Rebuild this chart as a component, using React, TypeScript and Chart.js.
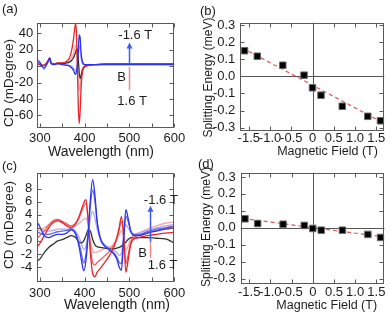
import React, { useEffect, useRef } from 'react';
import { Chart, registerables } from 'chart.js';

Chart.register(...registerables);

const FONT_FAMILY = "'Liberation Sans', Arial, Helvetica, sans-serif";
const TEXT = '#1c1c1c';
const FRAME = '#5a5a5a';
const ZERO = '#555555';
const TICK = 4;

// ---------------- (a) CD spectra ----------------
const aWavelength = [296, 300, 305, 310, 314, 318, 322, 326, 332, 340, 350, 360, 366, 371, 375, 378, 380, 382, 384, 386, 388, 390, 392, 395, 400, 410, 425, 450, 500, 550, 600];
const aCDPos16 = [3, 2, 1, 1, 3, 6, 10, 3, 3, 4, 4, 6, 10, 19, 32, 46, 52, 38, -5, -50, -70, -55, -28, -8, -1, 1, 2, 3, 3, 3, 3];
const aCDPos07 = [4, 3, 2, 1, 3, 5, 8, 3, 3, 4, 4, 5, 7, 10, 15, 21, 26, 22, 5, -15, -30, -26, -12, -3, 0, 2, 2, 3, 3, 3, 3];
const aCDZero = [3, 2, 1, 1, 3, 6, 9, 3, 3, 3, 3, 4, 5, 7, 10, 14, 17, 21, 20, 8, -8, -15, -12, -5, 0, 2, 2, 2.5, 2.5, 2.5, 2.5];
const aCDNeg07 = [5, 4, -1, -4, 0, 4, 8, 3, 2, 3, 2, 2, 1, 0, -2, -5, -6, -3, 4, 14, 25, 22, 10, 3, 2, 2, 2, 2, 2, 2, 2];
const aCDNeg16 = [7, 5, 0, -2, 1, 5, 10, 3, 2, 3, 2, 1, 0, -2, -5, -9, -10, -6, 2, 20, 38, 35, 17, 6, 2, 2, 2, 2, 2, 2, 2];
const aXTicks = [300, 350, 400, 450, 500, 550, 600];
const aXTickLabels = ['300', '', '400', '', '500', '', '600'];
const aYTicks = [-60, -40, -20, 0, 20, 40];
const aYTickLabels = ['-60', '-40', '-20', '0', '20', '40'];

// ---------------- (b) splitting energy ----------------
const bField = [-1.6, -1.3, -0.7, -0.2, 0, 0.2, 0.7, 1.3, 1.6];
const bSplitting = [0.15, 0.118, 0.065, 0.007, -0.067, -0.11, -0.175, -0.234, -0.26];
const bFitField = [-1.65, 1.65];
const bFitSplitting = [0.166, -0.27];

// ---------------- (c) CD spectra ----------------
const cWavelength = [296, 300, 310, 320, 330, 340, 350, 360, 370, 380, 388, 393, 398, 403, 408, 413, 418, 423, 428, 435, 445, 455, 465, 472, 477, 482, 487, 492, 497, 503, 510, 520, 540, 560, 580, 600];
const cCDPos16 = [-0.8, -0.4, 0.8, 2.0, 2.8, 3.1, 2.8, 2.3, 2.0, 2.6, 3.8, 4.8, 5.8, 6.3, 3.0, -2.0, -5.0, -5.5, -4.8, -4.2, -3.3, -2.3, -1.0, 0.5, 2.0, 3.7, 1.0, -4.8, -3.0, -0.5, 0.3, 0.5, 0.8, 1.0, 1.2, 1.3];
const cCDPos10 = [0.5, 0.8, 1.5, 2.4, 3.1, 3.3, 3.0, 2.6, 2.3, 2.7, 3.6, 4.5, 5.3, 5.7, 3.2, -1.0, -3.4, -3.7, -3.3, -2.9, -2.3, -1.6, -0.6, 0.5, 1.7, 3.0, 1.0, -3.5, -2.2, -0.2, 0.6, 0.8, 1.2, 1.6, 2.0, 2.3];
const cCDPos05 = [1.5, 1.6, 2.0, 2.5, 2.9, 3.0, 2.8, 2.5, 2.2, 2.3, 2.7, 3.0, 3.3, 3.5, 2.2, 0.0, -1.5, -1.8, -1.7, -1.5, -1.2, -1.0, -0.5, 0.2, 0.9, 1.6, 0.5, -1.5, -0.8, 0.4, 0.9, 1.2, 1.8, 2.3, 2.7, 2.9];
const cCDZero = [-3.0, -2.8, -1.8, -1.0, -0.5, 0.0, 0.2, 0.5, 0.8, 0.5, -0.2, -0.3, 0.0, 0.8, 1.7, 1.5, 0.2, -0.6, -0.9, -1.0, -1.1, -1.2, -1.2, -1.1, -1.0, -0.8, -0.5, -0.2, 0.2, 0.5, 0.4, 0.5, 0.5, 0.4, 0.3, -0.3];
const cCDNeg05 = [2.0, 1.9, 1.6, 1.5, 1.6, 1.8, 1.8, 1.8, 1.9, 1.5, 0.5, -0.5, -1.3, -0.8, 1.0, 3.5, 4.5, 3.5, 1.8, 0.3, -0.6, -1.0, -1.4, -1.8, -2.2, -2.0, 1.0, 2.5, 2.0, 1.3, 1.0, 1.2, 1.6, 2.0, 2.3, 2.5];
const cCDNeg10 = [1.3, 1.2, 1.0, 1.0, 1.2, 1.4, 1.5, 1.6, 1.8, 1.2, -0.5, -2.0, -3.4, -2.0, 1.5, 5.5, 7.8, 6.0, 2.8, 0.5, -0.8, -1.2, -1.8, -2.5, -3.3, -3.5, 0.5, 3.8, 3.0, 1.5, 1.0, 1.0, 1.4, 1.8, 2.0, 2.2];
const cCDNeg16 = [2.7, 2.2, 0.8, 0.5, 0.8, 1.0, 1.0, 1.2, 1.7, 1.0, -1.0, -3.0, -4.6, -3.0, 1.0, 6.5, 9.4, 7.0, 3.0, 0.3, -0.8, -1.4, -2.0, -2.8, -4.0, -4.5, 0.0, 4.8, 3.5, 1.5, 0.8, 0.8, 1.2, 1.5, 1.8, 2.0];
const cYTicks = [-4, -2, 0, 2, 4, 6, 8];
const cYTickLabels = ['-4', '-2', '0', '2', '4', '6', '8'];

// ---------------- (d) splitting energy ----------------
const dField = [-1.6, -1.3, -0.7, -0.2, 0, 0.2, 0.7, 1.3, 1.6];
const dSplitting = [0.053, 0.025, 0.021, 0.014, -0.004, -0.014, -0.014, -0.039, -0.057];
const dFitField = [-1.65, 1.65];
const dFitSplitting = [0.055, -0.053];

const fieldTicks = [-1.5, -1, -0.5, 0, 0.5, 1, 1.5];
const fieldTickLabels = ['-1.5', '-1.0', '-0.5', '0', '0.5', '1.0', '1.5'];
const splitTicks = [-0.3, -0.2, -0.1, 0, 0.1, 0.2, 0.3];
const splitTickLabels = ['-0.3', '-0.2', '-0.1', '0.0', '0.1', '0.2', '0.3'];

const RED = '#e8262a';
const RED2 = '#ee5c5c';
const PINK = '#f4a8a8';
const BLACK = '#333333';
const LBLUE = '#a8aaf2';
const BLUE2 = '#6466ee';
const BLUE = '#2b33ec';
const ARROW_BLUE = '#3c5cf2';
const ARROW_RED = '#f28888';

type Note = { text: string; x: number; y: number };
type Title = { text: string; cx: number; cy: number; size: number; vertical?: boolean };
type Decor = {
  letter: string;
  letterX: number;
  letterY: number;
  titles: Title[];
  zeroLines?: boolean;
  arrow?: { x: number; blue: number[]; red: number[] };
  notes?: Note[];
};

const aArrow = { x: 500, blue: [2.5, 29], red: [-1, -29] };
const aNotes: Note[] = [
  { text: '-1.6 T', x: 513, y: 38 },
  { text: 'B', x: 482.6, y: -14 },
  { text: '1.6 T', x: 506, y: -43 },
];
const cArrow = { x: 546, blue: [-0.2, 5.4], red: [-2.6, -0.2] };
const cNotes: Note[] = [
  { text: '-1.6 T', x: 570, y: 6.2 },
  { text: 'B', x: 529.5, y: -1.9 },
  { text: '1.6 T', x: 574, y: -3.7 },
];

function decorPlugin(cfg: Decor) {
  return {
    id: 'decor',
    beforeDatasetsDraw(chart: any) {
      if (!cfg.zeroLines) return;
      const { ctx, chartArea: ca, scales } = chart;
      const x0 = Math.round(scales.x.getPixelForValue(0)) + 0.5;
      const y0 = Math.round(scales.y.getPixelForValue(0)) + 0.5;
      ctx.save();
      ctx.strokeStyle = ZERO;
      ctx.lineWidth = 1;
      ctx.beginPath();
      ctx.moveTo(ca.left, y0);
      ctx.lineTo(ca.right, y0);
      ctx.moveTo(x0, ca.top);
      ctx.lineTo(x0, ca.bottom);
      ctx.stroke();
      ctx.restore();
    },
    afterDatasetsDraw(chart: any) {
      const { ctx, chartArea: ca, scales } = chart;
      const xs = scales.x;
      const ys = scales.y;
      const L = Math.round(ca.left) + 0.5;
      const R = Math.round(ca.right) - 0.5;
      const T = Math.round(ca.top) + 0.5;
      const B = Math.round(ca.bottom) - 0.5;
      ctx.save();
      ctx.strokeStyle = FRAME;
      ctx.lineWidth = 1;
      ctx.strokeRect(L, T, R - L, B - T);
      ctx.beginPath();
      for (const t of xs.ticks) {
        const p = Math.round(xs.getPixelForValue(t.value)) + 0.5;
        ctx.moveTo(p, B);
        ctx.lineTo(p, B - TICK);
        ctx.moveTo(p, T);
        ctx.lineTo(p, T + TICK);
      }
      for (const t of ys.ticks) {
        const p = Math.round(ys.getPixelForValue(t.value)) + 0.5;
        ctx.moveTo(L, p);
        ctx.lineTo(L + TICK, p);
        ctx.moveTo(R, p);
        ctx.lineTo(R - TICK, p);
      }
      ctx.stroke();

      if (cfg.arrow) {
        const a = cfg.arrow;
        const px = Math.round(xs.getPixelForValue(a.x)) + 0.5;
        ctx.lineWidth = 1.5;
        ctx.strokeStyle = ARROW_RED;
        ctx.beginPath();
        ctx.moveTo(px, ys.getPixelForValue(a.red[0]));
        ctx.lineTo(px, ys.getPixelForValue(a.red[1]));
        ctx.stroke();
        const tip = ys.getPixelForValue(a.blue[1]);
        ctx.strokeStyle = ARROW_BLUE;
        ctx.beginPath();
        ctx.moveTo(px, ys.getPixelForValue(a.blue[0]));
        ctx.lineTo(px, tip + 4);
        ctx.stroke();
        ctx.fillStyle = ARROW_BLUE;
        ctx.beginPath();
        ctx.moveTo(px, tip);
        ctx.lineTo(px - 3, tip + 6);
        ctx.lineTo(px + 3, tip + 6);
        ctx.closePath();
        ctx.fill();
      }

      ctx.fillStyle = TEXT;
      ctx.font = `13px ${FONT_FAMILY}`;
      ctx.textAlign = 'center';
      ctx.textBaseline = 'middle';
      for (const n of cfg.notes ?? []) {
        ctx.fillText(n.text, xs.getPixelForValue(n.x), ys.getPixelForValue(n.y));
      }
      for (const t of cfg.titles) {
        ctx.save();
        ctx.font = `${t.size}px ${FONT_FAMILY}`;
        ctx.translate(t.cx, t.cy);
        if (t.vertical) ctx.rotate(-Math.PI / 2);
        ctx.fillText(t.text, 0, 0);
        ctx.restore();
      }
      ctx.textAlign = 'left';
      ctx.font = `13px ${FONT_FAMILY}`;
      ctx.fillText(cfg.letter, cfg.letterX, cfg.letterY);
      ctx.restore();
    },
  };
}

type Panel = {
  datasets: any[];
  xMin: number; xMax: number; yMin: number; yMax: number;
  xTicks: number[]; xLabels: string[]; yTicks: number[]; yLabels: string[];
  pad: { left: number; right: number; top: number; bottom: number };
  yWidth: number; xHeight: number; xLabelPad: number; yLabelPad: number;
  decor: Decor;
};

function fixTicks(values: number[]) {
  return (scale: any) => {
    scale.ticks = values.map((v) => ({ value: v }));
  };
}

function fixSize(size: number, horizontal: boolean) {
  return (scale: any) => {
    if (horizontal) scale.height = size;
    else scale.width = size;
    scale.paddingLeft = 0;
    scale.paddingRight = 0;
    scale.paddingTop = 0;
    scale.paddingBottom = 0;
  };
}

function buildConfig(p: Panel): any {
  const font = { family: FONT_FAMILY, size: 13 };
  return {
    type: 'scatter',
    data: { datasets: p.datasets },
    options: {
      responsive: false,
      animation: false,
      events: [],
      devicePixelRatio: 1,
      layout: { padding: p.pad },
      plugins: { legend: { display: false }, tooltip: { enabled: false } },
      scales: {
        x: {
          type: 'linear',
          min: p.xMin,
          max: p.xMax,
          afterBuildTicks: fixTicks(p.xTicks),
          afterFit: fixSize(p.xHeight, true),
          grid: { display: false, drawTicks: false },
          border: { display: false },
          ticks: {
            autoSkip: false,
            maxRotation: 0,
            minRotation: 0,
            padding: p.xLabelPad,
            color: TEXT,
            font,
            callback: (_v: any, i: number) => p.xLabels[i],
          },
          title: { display: false },
        },
        y: {
          type: 'linear',
          min: p.yMin,
          max: p.yMax,
          afterBuildTicks: fixTicks(p.yTicks),
          afterFit: fixSize(p.yWidth, false),
          grid: { display: false, drawTicks: false },
          border: { display: false },
          ticks: {
            autoSkip: false,
            padding: p.yLabelPad,
            color: TEXT,
            font,
            callback: (_v: any, i: number) => p.yLabels[i],
          },
          title: { display: false },
        },
      },
    },
    plugins: [decorPlugin(p.decor)],
  };
}

function curve(xs: number[], ys: number[], color: string) {
  return {
    data: xs.map((x, i) => ({ x, y: ys[i] })),
    showLine: true,
    borderColor: color,
    backgroundColor: color,
    borderWidth: 1.3,
    pointRadius: 0,
    cubicInterpolationMode: 'monotone',
    fill: false,
  };
}

function markers(xs: number[], ys: number[]) {
  return {
    data: xs.map((x, i) => ({ x, y: ys[i] })),
    showLine: false,
    pointStyle: 'rect',
    pointRadius: 4.6,
    backgroundColor: '#000000',
    borderColor: '#6a6a6a',
    borderWidth: 1,
  };
}

function fitLine(xs: number[], ys: number[]) {
  return {
    data: xs.map((x, i) => ({ x, y: ys[i] })),
    showLine: true,
    borderColor: '#e05555',
    borderWidth: 1.2,
    borderDash: [4, 3],
    pointRadius: 0,
    fill: false,
  };
}

const panels: Panel[] = [
  {
    datasets: [
      curve(aWavelength, aCDNeg16, BLUE),
      curve(aWavelength, aCDPos16, RED),
      curve(aWavelength, aCDZero, BLACK),
      curve(aWavelength, aCDNeg07, LBLUE),
      curve(aWavelength, aCDPos07, PINK),
    ],
    xMin: 294.5, xMax: 600, yMin: -75, yMax: 53,
    xTicks: aXTicks, xLabels: aXTickLabels, yTicks: aYTicks, yLabels: aYTickLabels,
    pad: { left: 1.2, right: 215.7, top: 22.7, bottom: 155.5 },
    yWidth: 36.1, xHeight: 31.8, xLabelPad: 2.5, yLabelPad: 4,
    decor: {
      letter: '(a)', letterX: 2, letterY: 9.5, arrow: aArrow, notes: aNotes,
      titles: [
        { text: 'Wavelength (nm)', cx: 101, cy: 151.7, size: 14 },
        { text: 'CD (mDegree)', cx: 9, cy: 83, size: 13.5, vertical: true },
      ],
    },
  },
  {
    datasets: [markers(bField, bSplitting), fitLine(bFitField, bFitSplitting)],
    xMin: -1.7, xMax: 1.69, yMin: -0.318, yMax: 0.314,
    xTicks: fieldTicks, xLabels: fieldTickLabels, yTicks: splitTicks, yLabels: splitTickLabels,
    pad: { left: 200.7, right: 5.7, top: 22.7, bottom: 155.5 },
    yWidth: 39.6, xHeight: 28.8, xLabelPad: 0, yLabelPad: 5,
    decor: {
      letter: '(b)', letterX: 200, letterY: 11, zeroLines: true,
      titles: [
        { text: 'Magnetic Field (T)', cx: 327.5, cy: 151.7, size: 12.5 },
        { text: 'Splitting Energy (meV)', cx: 208.3, cy: 77.5, size: 12 },
      ].map((t, i) => (i === 1 ? { ...t, vertical: true } : t)),
    },
  },
  {
    datasets: [
      curve(cWavelength, cCDNeg16, BLUE),
      curve(cWavelength, cCDNeg10, BLUE2),
      curve(cWavelength, cCDPos16, RED),
      curve(cWavelength, cCDPos10, RED2),
      curve(cWavelength, cCDZero, BLACK),
      curve(cWavelength, cCDNeg05, LBLUE),
      curve(cWavelength, cCDPos05, PINK),
    ],
    xMin: 294.5, xMax: 600, yMin: -6.3, yMax: 10.4,
    xTicks: aXTicks, xLabels: aXTickLabels, yTicks: cYTicks, yLabels: cYTickLabels,
    pad: { left: 1.4, right: 215.7, top: 173, bottom: 1.9 },
    yWidth: 35.9, xHeight: 31.1, xLabelPad: 3.2, yLabelPad: 5,
    decor: {
      letter: '(c)', letterX: 2, letterY: 166, arrow: cArrow, notes: cNotes,
      titles: [
        { text: 'Wavelength (nm)', cx: 117, cy: 305.3, size: 14 },
        { text: 'CD (mDegree)', cx: 9.2, cy: 225, size: 13.5, vertical: true },
      ],
    },
  },
  {
    datasets: [markers(dField, dSplitting), fitLine(dFitField, dFitSplitting)],
    xMin: -1.7, xMax: 1.69, yMin: -0.33, yMax: 0.325,
    xTicks: fieldTicks, xLabels: fieldTickLabels, yTicks: splitTicks, yLabels: splitTickLabels,
    pad: { left: 198.9, right: 5, top: 172.7, bottom: 1.9 },
    yWidth: 41.8, xHeight: 29.4, xLabelPad: 0.5, yLabelPad: 5,
    decor: {
      letter: '(d)', letterX: 198, letterY: 164.5, zeroLines: true,
      titles: [
        { text: 'Magnetic Field (T)', cx: 326.7, cy: 305.3, size: 12.5 },
        { text: 'Splitting Energy (meV)', cx: 206.7, cy: 227, size: 12, vertical: true },
      ],
    },
  },
];

export default function App() {
  const refs = [useRef<HTMLCanvasElement>(null), useRef<HTMLCanvasElement>(null), useRef<HTMLCanvasElement>(null), useRef<HTMLCanvasElement>(null)];

  useEffect(() => {
    document.body.style.margin = '0';
    const charts: Chart[] = [];
    panels.forEach((p, i) => {
      const c = refs[i].current;
      if (c) charts.push(new Chart(c, buildConfig(p)));
    });
    return () => charts.forEach((ch) => ch.destroy());
  }, []);

  return (
    <div style={{ position: 'relative', width: 390, height: 315, background: '#ffffff', overflow: 'hidden' }}>
      {refs.map((r, i) => (
        <canvas
          key={i}
          ref={r}
          width={390}
          height={315}
          style={{ position: 'absolute', left: 0, top: 0, width: 390, height: 315 }}
        />
      ))}
    </div>
  );
}
